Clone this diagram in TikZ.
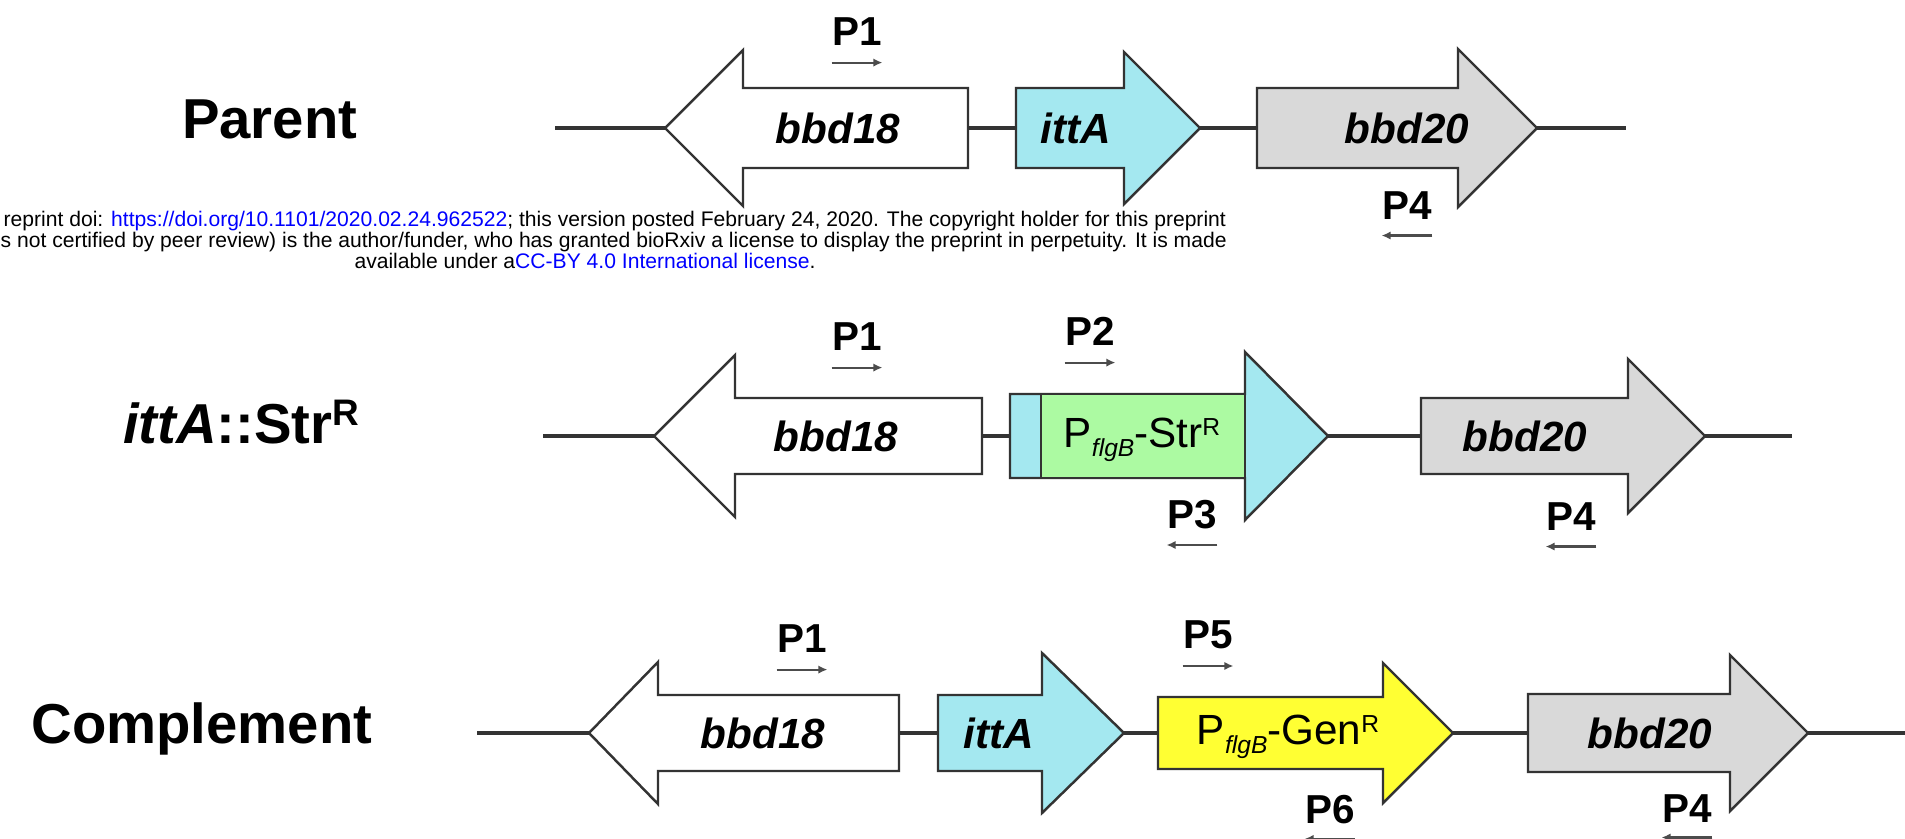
\documentclass[tikz,border=0pt]{standalone}
\usepackage{fontspec}
\setmainfont{Liberation Sans}
\usetikzlibrary{arrows.meta}
\definecolor{ittacyan}{RGB}{164,232,240}
\definecolor{strgreen}{RGB}{172,250,162}
\definecolor{genyellow}{RGB}{255,255,51}
\definecolor{bbdgray}{RGB}{217,217,217}
\definecolor{linkblue}{RGB}{0,0,255}
% gene arrow: name, tail x, head base x, tip x, y, shaft half, head half, fill
\newcommand{\geneshape}[8]{%
  \draw[gene,#8] (#2,#5-#6) -- (#3,#5-#6) -- (#3,#5-#7) -- (#4,#5)
    -- (#3,#5+#7) -- (#3,#5+#6) -- (#2,#5+#6) -- cycle;
  \coordinate (#1-tail) at (#2,#5);
  \coordinate (#1-tip) at (#4,#5);}
\newcommand{\flgB}{\raisebox{-2.8pt}{\fontsize{7}{8}\selectfont\itshape flgB}}
\newcommand{\supR}{\raisebox{3.4pt}{\fontsize{7}{8}\selectfont R}}
\newcommand{\bigR}{\raisebox{5pt}{\fontsize{10.5}{12}\selectfont R}}
\begin{document}
\begin{tikzpicture}[x=0.01cm,y=-0.01cm,
  dna/.style={draw=black!80,line width=0.9pt},
  gene/.style={draw=black!80,line width=0.7pt,line join=miter},
  genename/.style={font=\fontsize{12}{14}\selectfont\bfseries\itshape,anchor=base,inner sep=0pt},
  cassette/.style={font=\fontsize{12}{14}\selectfont,anchor=base,inner sep=0pt},
  primer/.style={font=\fontsize{11.5}{13}\selectfont\bfseries,anchor=base,inner sep=0pt},
  rowlabel/.style={font=\fontsize{16}{19}\selectfont\bfseries,anchor=base east,inner sep=0pt},
  wmark/.style={font=\fontsize{6}{7}\selectfont,anchor=base west,inner sep=0pt},
  fwd/.style={draw=black!70,line width=0.6pt,-{Latex[length=2.6pt,width=2.4pt]}}]
\fill[white] (0,0) rectangle (1905,839);
\useasboundingbox (0,0) rectangle (1905,839);

% Parent
\node[rowlabel] (parentlbl) at (358,138) {Parent};
\coordinate (startA) at (555,128);
\coordinate (endA) at (1626,128);
\geneshape{bbdA}{968}{743}{665}{128}{40}{78}{fill=white}
\geneshape{ittaA}{1016}{1124}{1200}{128}{40}{76}{fill=ittacyan}
\geneshape{twentyA}{1257}{1458}{1537}{128}{40}{79}{fill=bbdgray}
\draw[dna] (startA) -- (bbdA-tip) (bbdA-tail) -- (ittaA-tail) (ittaA-tip) -- (twentyA-tail) (twentyA-tip) -- (endA);
\node[genename] (bbdAlbl) at (838,143) {bbd18};
\node[genename] (ittaAlbl) at (1076,143) {ittA};
\node[genename] (twentyAlbl) at (1407,143) {bbd20};
\node[primer] (pA1) at (857,45) {P1};
\node[primer] (pA4) at (1407,219) {P4};
\draw[fwd] ([yshift=-4.8pt]pA1.south west) -- ([yshift=-4.8pt]pA1.south east);
\draw[fwd] ([yshift=-4.5pt]pA4.south east) -- ([yshift=-4.5pt]pA4.south west);

% preprint notice
\node[wmark] (wm1) at (3,226) {reprint doi: \textcolor{linkblue}{https://doi.org/10.1101/2020.02.24.962522}; this version posted February 24, 2020. The copyright holder for this preprint};
\node[wmark] (wm2) at (0,247) {s not certified by peer review) is the author/funder, who has granted bioRxiv a license to display the preprint in perpetuity. It is made};
\node[wmark,anchor=base] (wm3) at (585,268) {available under a\textcolor{linkblue}{CC-BY 4.0 International license}.};

% ittA::StrR
\node[rowlabel] (strrowlbl) at (360,443) {\textit{ittA}::Str\bigR};
\coordinate (startB) at (543,436);
\coordinate (endB) at (1792,436);
\geneshape{bbdB}{982}{735}{654}{436}{38}{81}{fill=white}
\geneshape{strB}{1010}{1245}{1328}{436}{42}{84}{fill=ittacyan}
\draw[gene,fill=strgreen] (1041,394) rectangle (1245,478);
\geneshape{twentyB}{1421}{1628}{1705}{436}{38}{77}{fill=bbdgray}
\draw[dna] (startB) -- (bbdB-tip) (bbdB-tail) -- (strB-tail) (strB-tip) -- (twentyB-tail) (twentyB-tip) -- (endB);
\node[genename] (bbdBlbl) at (836,451) {bbd18};
\node[cassette] (strBlbl) at (1142,447) {P\flgB-Str\supR};
\node[genename] (twentyBlbl) at (1525,451) {bbd20};
\node[primer] (pB1) at (857,350) {P1};
\node[primer] (pB2) at (1090,345) {P2};
\node[primer] (pB3) at (1192,528) {P3};
\node[primer] (pB4) at (1571,530) {P4};
\draw[fwd] ([yshift=-4.8pt]pB1.south west) -- ([yshift=-4.8pt]pB1.south east);
\draw[fwd] ([yshift=-4.8pt]pB2.south west) -- ([yshift=-4.8pt]pB2.south east);
\draw[fwd] ([yshift=-4.5pt]pB3.south east) -- ([yshift=-4.5pt]pB3.south west);
\draw[fwd] ([yshift=-4.5pt]pB4.south east) -- ([yshift=-4.5pt]pB4.south west);

% Complement
\node[rowlabel] (complbl) at (373,743) {Complement};
\coordinate (startC) at (477,733);
\coordinate (endC) at (1905,733);
\geneshape{bbdC}{899}{658}{589}{733}{38}{71}{fill=white}
\geneshape{ittaC}{938}{1042}{1124}{733}{38}{80}{fill=ittacyan}
\geneshape{genC}{1158}{1383}{1453}{733}{36}{70}{fill=genyellow}
\geneshape{twentyC}{1528}{1730}{1808}{733}{39}{78}{fill=bbdgray}
\draw[dna] (startC) -- (bbdC-tip) (bbdC-tail) -- (ittaC-tail) (ittaC-tip) -- (genC-tail) (genC-tip) -- (twentyC-tail) (twentyC-tip) -- (endC);
\node[genename] (bbdClbl) at (763,748) {bbd18};
\node[genename] (ittaClbl) at (999,748) {ittA};
\node[cassette] (genClbl) at (1288,744) {P\flgB-Gen\supR};
\node[genename] (twentyClbl) at (1650,748) {bbd20};
\node[primer] (pC1) at (802,652) {P1};
\node[primer] (pC5) at (1208,648) {P5};
\node[primer] (pC6) at (1330,823) {P6};
\node[primer] (pC4) at (1687,822) {P4};
\draw[fwd] ([yshift=-4.8pt]pC1.south west) -- ([yshift=-4.8pt]pC1.south east);
\draw[fwd] ([yshift=-4.8pt]pC5.south west) -- ([yshift=-4.8pt]pC5.south east);
\draw[fwd] ([yshift=-4.2pt]pC6.south east) -- ([yshift=-4.2pt]pC6.south west);
\draw[fwd] ([yshift=-4.2pt]pC4.south east) -- ([yshift=-4.2pt]pC4.south west);
\end{tikzpicture}
\end{document}
